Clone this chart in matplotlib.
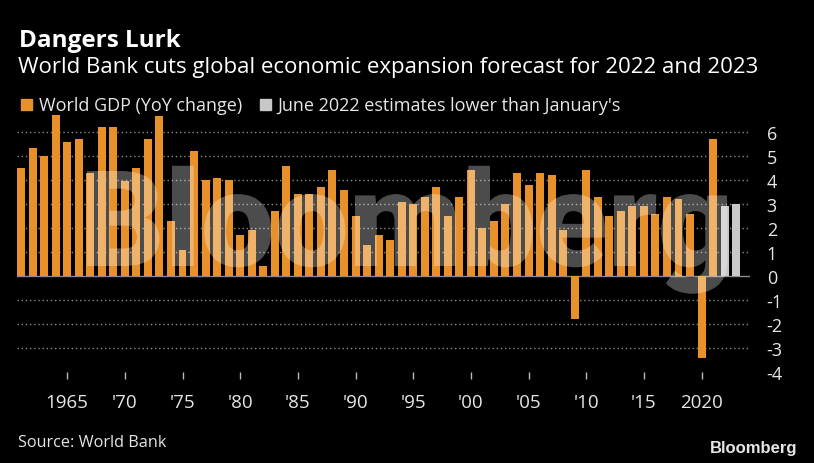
import matplotlib
matplotlib.use("Agg")
import matplotlib.pyplot as plt
from matplotlib.patches import Rectangle, PathPatch
from matplotlib.textpath import TextPath
from matplotlib.font_manager import FontProperties
from matplotlib.transforms import Affine2D, IdentityTransform

# World GDP, YoY change in %
years = list(range(1961, 2022))
gdp = [4.5, 5.35, 5.0, 6.7, 5.6, 5.7, 4.3, 6.2, 6.2, 3.95,
       4.5, 5.7, 6.65, 2.3, 1.1, 5.2, 4.0, 4.1, 4.0, 1.7,
       1.9, 0.4, 2.7, 4.6, 3.4, 3.4, 3.7, 4.4, 3.6, 2.5,
       1.3, 1.7, 1.5, 3.1, 3.0, 3.3, 3.7, 2.5, 3.3, 4.4,
       2.0, 2.3, 3.0, 4.3, 3.8, 4.3, 4.2, 1.9, -1.8, 4.4,
       3.3, 2.5, 2.7, 2.9, 2.9, 2.6, 3.3, 3.2, 2.6, -3.4, 5.7]

# June 2022 estimates
est_years = [2022, 2023]
est = [2.9, 3.0]

tick_years = [1965, 1970, 1975, 1980, 1985, 1990, 1995, 2000, 2005, 2010, 2015, 2020]
tick_labels = ["1965", "'70", "'75", "'80", "'85", "'90", "'95", "'00", "'05", "'10", "'15", "2020"]
y_ticks = [-4, -3, -2, -1, 0, 1, 2, 3, 4, 5, 6]

ORANGE = "#e8912b"
GREY = "#c8c8c8"
TXT = "#e6e6e6"
W, H = 814, 464

plt.rcParams["font.family"] = ["Open Sans", "DejaVu Sans"]

fig = plt.figure(figsize=(W / 100, H / 100), dpi=100, facecolor="black")
ax = fig.add_axes([17 / W, 1 - 373 / H, 733 / W, 259.2 / H])
ax.set_facecolor("black")

ax.bar(years, gdp, width=0.69, color=ORANGE, zorder=2)
ax.bar(est_years, est, width=0.69, color=GREY, zorder=2)

# dotted grid, solid zero line
for v in y_ticks:
    if v in (-4, 0):
        continue
    ax.axhline(v, color="#8c8c8c", lw=1, ls=(0, (1, 2)), zorder=1)
ax.axhline(0, color="#8c8c8c", lw=1, zorder=1.5)

ax.set_xlim(1960.65, 2024.2)
ax.set_ylim(-4, 6.8)
for s in ax.spines.values():
    s.set_visible(False)

ax.set_xticks(tick_years)
ax.set_xticklabels(tick_labels)
ax.set_yticks(y_ticks)
ax.set_yticklabels([str(v) for v in y_ticks])
ax.yaxis.tick_right()
ax.tick_params(axis="y", length=0, pad=12, labelsize=13, labelcolor=TXT)
ax.tick_params(axis="x", length=5, width=1, color="#bbbbbb", pad=10,
               labelsize=13.5, labelcolor=TXT)

# watermark, squeezed to fit its box (pixels, origin bottom-left)
wm_prop = FontProperties(family=["Roboto", "Liberation Sans"], weight="black")
wm = TextPath((0, 0), "Bloomberg", size=100, prop=wm_prop)
cap = TextPath((0, 0), "B", size=100, prop=wm_prop).get_extents()
ext = wm.get_extents()
sx = 640 / ext.width
sy = 95 / cap.height
tr = Affine2D().translate(-ext.x0, 0).scale(sx, sy).translate(87, H - 267)
fig.add_artist(PathPatch(tr.transform_path(wm), transform=IdentityTransform(),
                         facecolor="white", edgecolor="none", alpha=0.3, zorder=5))

# titles
fig.text(19 / W, 1 - 47 / H, "Dangers Lurk", fontsize=17.5, fontweight="bold",
         color="white", va="baseline")
fig.text(18 / W, 1 - 73 / H,
         "World Bank cuts global economic expansion forecast for 2022 and 2023",
         fontsize=16, color="white", va="baseline")

# legend
fig.add_artist(Rectangle((21 / W, 1 - 111 / H), 11 / W, 11 / H,
                         transform=fig.transFigure, color=ORANGE))
fig.text(39 / W, 1 - 111 / H, "World GDP (YoY change)", fontsize=13,
         color=TXT, va="baseline")
fig.add_artist(Rectangle((260 / W, 1 - 111 / H), 11 / W, 11 / H,
                         transform=fig.transFigure, color=GREY))
fig.text(277 / W, 1 - 111 / H, "June 2022 estimates lower than January's",
         fontsize=13, color=TXT, va="baseline")

# footer
fig.text(18 / W, 1 - 447 / H, "Source: World Bank", fontsize=11.7,
         color=TXT, va="baseline")
fig.text(797 / W, 1 - 453 / H, "Bloomberg", fontsize=12, fontweight="bold",
         family=["Liberation Sans", "DejaVu Sans"], color=TXT,
         va="baseline", ha="right")

fig.savefig("out.png", dpi=100, facecolor="black")
